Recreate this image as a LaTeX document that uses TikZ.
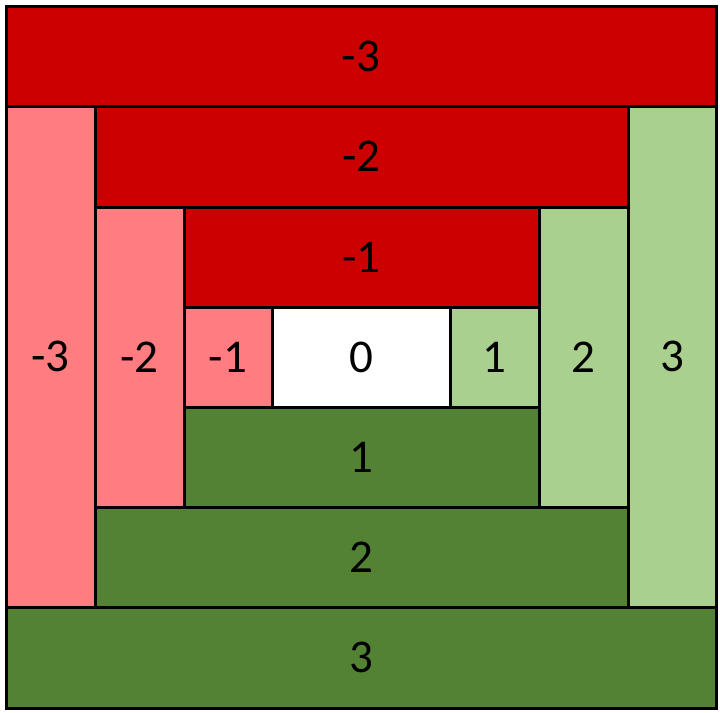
\documentclass[tikz,border=0pt]{standalone}
\usepackage{fontspec}
\setmainfont{Carlito}
\definecolor{dred}{HTML}{CC0000}
\definecolor{lred}{HTML}{FF7C80}
\definecolor{lgreen}{HTML}{A9D08E}
\definecolor{dgreen}{HTML}{548235}
\tikzset{
  cell/.style={draw=black, line width=3pt},
  lab/.style={font=\fontsize{47}{50}\selectfont, text=black, inner sep=0pt}
}
\begin{document}
\begin{tikzpicture}[x=1pt,y=-1pt]
\useasboundingbox[fill=white] (0,0) rectangle (720,712);
% ring 3
\draw[cell, fill=dred]   (6,6.5) rectangle node[lab] (t3) {-3} (716,106);
\draw[cell, fill=lred]   (6,106) rectangle node[lab] (l3) {-3} (95,607);
\draw[cell, fill=lgreen] (628,106) rectangle node[lab] (r3) {3} (716,607);
\draw[cell, fill=dgreen] (6,607) rectangle node[lab] (b3) {3} (716,708);
% ring 2
\draw[cell, fill=dred]   (95,106) rectangle node[lab] (t2) {-2} (628,207);
\draw[cell, fill=lred]   (95,207) rectangle node[lab] (l2) {-2} (184,507);
\draw[cell, fill=lgreen] (539,207) rectangle node[lab] (r2) {2} (628,507);
\draw[cell, fill=dgreen] (95,507) rectangle node[lab] (b2) {2} (628,607);
% ring 1
\draw[cell, fill=dred]   (184,207) rectangle node[lab] (t1) {-1} (539,307);
\draw[cell, fill=lred]   (184,307) rectangle node[lab] (l1) {-1} (272,407);
\draw[cell, fill=lgreen] (450,307) rectangle node[lab] (r1) {1} (539,407);
\draw[cell, fill=dgreen] (184,407) rectangle node[lab] (b1) {1} (539,507);
% center
\draw[cell, fill=white]  (272,307) rectangle node[lab] (c0) {0} (450,407);
\end{tikzpicture}
\end{document}
